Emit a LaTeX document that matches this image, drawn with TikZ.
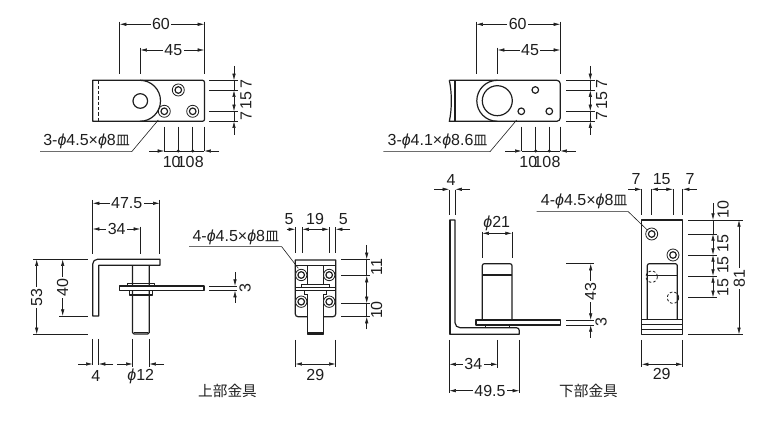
\documentclass[tikz,border=0pt]{standalone}
\usepackage{fontspec}
\setmainfont{Liberation Sans}
\newfontfamily\cjk{Noto Sans CJK JP}
\usetikzlibrary{arrows.meta}
\definecolor{ink}{HTML}{1e1e1e}
\newcommand{\dia}{\textit{ϕ}}
\newcommand{\sara}{{\cjk\fontsize{10.5}{10.5}\selectfont 皿}}
\tikzset{
  part/.style={draw=ink,line width=.9pt,line join=round},
  thinpart/.style={draw=ink,line width=.6pt},
  ext/.style={draw=ink,line width=.45pt},
  dimboth/.style={ext,{Latex[length=5pt,width=2.6pt]}-{Latex[length=5pt,width=2.6pt]}},
  dimend/.style={ext,-{Latex[length=5pt,width=2.6pt]}},
  lbl/.style={text=ink,font=\fontsize{12}{12}\selectfont,inner sep=1pt},
  gaplbl/.style={lbl,fill=white},
  vlbl/.style={lbl,rotate=90},
  vgaplbl/.style={gaplbl,rotate=90},
  kanji/.style={text=ink,font=\cjk\fontsize{11}{11}\selectfont,inner sep=0pt},
}
\begin{document}
\begin{tikzpicture}[x=0.75pt,y=-0.75pt]
  \useasboundingbox (0,0) rectangle (764,441);

  % top left plate
  \draw[part] (92.7,80.3) -- (202.5,80.3) arc[start angle=-90,end angle=0,radius=2] -- (204.5,119.3) arc[start angle=0,end angle=90,radius=2] -- (92.7,121.3) -- cycle;
  \draw[thinpart,dashed,dash pattern=on 2.5pt off 1.5pt] (98.3,80.3) -- (98.3,121.3);
  \draw[part] (140,80.3) arc[start angle=-90,end angle=90,radius=20.5];
  \draw[part] (140.3,101) circle[radius=7.3];
  \draw[thinpart] (178.3,90) circle[radius=6];
  \draw[part] (178.3,90) circle[radius=3.3];
  \draw[thinpart] (164.3,111.3) circle[radius=6];
  \draw[part] (164.3,111.3) circle[radius=3.3];
  \draw[thinpart] (192.7,111.3) circle[radius=6];
  \draw[part] (192.7,111.3) circle[radius=3.3];
  \draw[ext] (119.7,21.7) -- (119.7,74.3);
  \draw[ext] (204.3,21.7) -- (204.3,74.3);
  \draw[ext] (140.3,47.7) -- (140.3,74.3);
  \draw[dimboth] (119.7,24.3) -- (204.3,24.3);
  \draw[dimboth] (140.3,50) -- (204.3,50);
  \node[gaplbl] (topA60) at (161,24) {60};
  \node[gaplbl] (topA45) at (173.3,50) {45};
  \draw[ext] (209.3,80.3) -- (238,80.3);
  \draw[ext] (209.3,90.3) -- (238,90.3);
  \draw[ext] (209.3,111.3) -- (238,111.3);
  \draw[ext] (209.3,121.3) -- (238,121.3);
  \draw[dimend] (234,66) -- (234,80.3);
  \draw[dimboth] (234,90.3) -- (234,111.3);
  \draw[dimend] (234,135) -- (234,121.3);
  \draw[ext] (234,80.3) -- (234,90.3);
  \draw[ext] (234,111.3) -- (234,121.3);
  \node[vlbl] (topA7a) at (246,84.5) {7};
  \node[vlbl] (topA15) at (246,100.7) {15};
  \node[vlbl] (topA7b) at (246,116) {7};
  \draw[ext] (164.3,126.7) -- (164.3,151);
  \draw[ext] (178.3,126.7) -- (178.3,151);
  \draw[ext] (192.7,126.7) -- (192.7,151);
  \draw[ext] (204.3,126.7) -- (204.3,151);
  \draw[dimend] (149.3,151) -- (164.3,151);
  \draw[dimend] (219,151) -- (204.3,151);
  \draw[ext] (164.3,151) -- (204.3,151);
  \fill[ink] (178.3,151) circle[radius=1.6];
  \fill[ink] (192.7,151) circle[radius=1.6];
  \node[lbl] (topA10a) at (171.7,162.3) {10};
  \node[lbl] (topA10b) at (185.7,162.3) {10};
  \node[lbl] (topA8) at (199.3,162.3) {8};
  \draw[ext] (158.3,120) -- (131.7,151.7) -- (40,151.7);
  \node[lbl,anchor=west] (topAnote) at (41.7,141) {3-\dia4.5×\dia8\sara};

  % top right plate
  \draw[part] (449.3,80.3) -- (556.8,80.3) arc[start angle=-90,end angle=0,radius=3.5] -- (560.3,117.8) arc[start angle=0,end angle=90,radius=3.5] -- (449.3,121.3) .. controls (452,110) and (452,92) .. (449.3,80.3);
  \draw[part] (455,80.3) -- (455,121.3);
  \draw[part] (497.3,80.3) arc[start angle=-90,end angle=-270,radius=20.5];
  \draw[part] (497.3,100.7) circle[radius=15];
  \draw[part] (535.3,90) circle[radius=3.3];
  \draw[part] (521.3,111.3) circle[radius=3.3];
  \draw[part] (549.3,111.3) circle[radius=3.3];
  \draw[ext] (476.3,21.7) -- (476.3,74.3);
  \draw[ext] (560.3,21.7) -- (560.3,74.3);
  \draw[ext] (497.7,47.7) -- (497.7,74.3);
  \draw[dimboth] (476.3,24.3) -- (560.3,24.3);
  \draw[dimboth] (497.7,50) -- (560.3,50);
  \node[gaplbl] (topB60) at (517.7,24) {60};
  \node[gaplbl] (topB45) at (530,50) {45};
  \draw[ext] (566,80.3) -- (595,80.3);
  \draw[ext] (566,90.3) -- (595,90.3);
  \draw[ext] (566,111.3) -- (595,111.3);
  \draw[ext] (566,121.3) -- (595,121.3);
  \draw[dimend] (590.3,66) -- (590.3,80.3);
  \draw[dimboth] (590.3,90.3) -- (590.3,111.3);
  \draw[dimend] (590.3,135) -- (590.3,121.3);
  \draw[ext] (590.3,80.3) -- (590.3,90.3);
  \draw[ext] (590.3,111.3) -- (590.3,121.3);
  \node[vlbl] (topB7a) at (601.7,84.5) {7};
  \node[vlbl] (topB15) at (601.7,100.7) {15};
  \node[vlbl] (topB7b) at (601.7,116) {7};
  \draw[ext] (521.7,126.7) -- (521.7,151);
  \draw[ext] (535.7,126.7) -- (535.7,151);
  \draw[ext] (549.3,126.7) -- (549.3,151);
  \draw[ext] (560.3,126.7) -- (560.3,151);
  \draw[dimend] (505,151) -- (521.7,151);
  \draw[dimend] (575.7,151) -- (560.3,151);
  \draw[ext] (521.7,151) -- (560.3,151);
  \fill[ink] (535.7,151) circle[radius=1.6];
  \fill[ink] (549.3,151) circle[radius=1.6];
  \node[lbl] (topB10a) at (528.3,162.3) {10};
  \node[lbl] (topB10b) at (542.3,162.3) {10};
  \node[lbl] (topB8) at (556,162.3) {8};
  \draw[ext] (516.7,120) -- (490,151.7) -- (383.3,151.7);
  \node[lbl,anchor=west] (topBnote) at (386,141) {3-\dia4.1×\dia8.6\sara};

  % upper fitting, side view
  \draw[part] (92.7,316) -- (92.7,264) arc[start angle=180,end angle=270,radius=4.7] -- (160,259.3) -- (160,265.3) -- (98.7,265.3) -- (98.7,316) -- cycle;
  \draw[part] (132.5,265.3) -- (132.5,332.5) arc[start angle=180,end angle=90,radius=1.5] -- (147.8,334) arc[start angle=90,end angle=0,radius=1.5] -- (149.3,265.3);
  \draw[line width=1.2pt,ink] (133.5,332.6) -- (148.3,332.6);
  \draw[part,fill=white] (119.3,286) rectangle (204,290.7);
  \draw[part] (127.3,286) -- (127.3,283.8) -- (154.7,283.8) -- (154.7,286);
  \draw[part] (129.3,290.7) -- (129.3,295) -- (152.7,295) -- (152.7,290.7);
  \draw[ext] (92.7,200) -- (92.7,254.3);
  \draw[ext] (159.7,200) -- (159.7,254.3);
  \draw[ext] (140.3,226.7) -- (140.3,254.3);
  \draw[dimboth] (92.7,203.3) -- (159.7,203.3);
  \draw[dimboth] (92.7,229) -- (140.3,229);
  \node[gaplbl] (upA475) at (126.7,203) {47.5};
  \node[gaplbl] (upA34) at (116.7,229) {34};
  \draw[ext] (33.3,259.3) -- (87.7,259.3);
  \draw[ext] (33.3,334.3) -- (87.7,334.3);
  \draw[ext] (59.3,316) -- (87.7,316);
  \draw[dimboth] (36.7,259.3) -- (36.7,334.3);
  \draw[dimboth] (62.7,259.3) -- (62.7,316);
  \node[vgaplbl] (upA53) at (36.7,297.3) {53};
  \node[vgaplbl] (upA40) at (62.7,287.3) {40};
  \draw[ext] (209,286) -- (236.7,286);
  \draw[ext] (209,290.7) -- (236.7,290.7);
  \draw[dimend] (235,272.3) -- (235,286);
  \draw[dimend] (235,302.7) -- (235,290.7);
  \node[vlbl] (upA3) at (245,287.7) {3};
  \draw[ext] (92.7,339) -- (92.7,365);
  \draw[ext] (98.7,339) -- (98.7,365);
  \draw[dimend] (78.3,364) -- (92.7,364);
  \draw[dimend] (113.3,364) -- (98.7,364);
  \node[lbl] (upA4) at (95.7,375.5) {4};
  \draw[ext] (132.7,339) -- (132.7,367);
  \draw[ext] (149.3,339) -- (149.3,367);
  \draw[dimend] (117.3,364) -- (132.7,364);
  \draw[dimend] (164,364) -- (149.3,364);
  \node[lbl] (upA12) at (140.7,376.5) {\dia12};
  \node[kanji] (upTitle) at (227.5,390.7) {上部金具};

  % upper fitting, front view
  \draw[part] (295.3,260) -- (335.7,260) -- (335.7,314) arc[start angle=0,end angle=90,radius=2.7] -- (298,316.7) arc[start angle=90,end angle=180,radius=2.7] -- cycle;
  \draw[thinpart] (295.3,265.7) -- (335.7,265.7);
  \draw[thinpart] (295.3,287.3) -- (335.7,287.3);
  \draw[thinpart] (295.3,290.7) -- (335.7,290.7);
  \draw[thinpart] (307.3,265.7) -- (307.3,284);
  \draw[thinpart] (323.3,265.7) -- (323.3,284);
  \draw[thinpart] (301.7,287.3) -- (301.7,284) -- (329,284) -- (329,287.3);
  \draw[thinpart] (304,290.7) -- (304,294.3) -- (326.5,294.3) -- (326.5,290.7);
  \draw[part,fill=white] (307.3,294.3) -- (307.3,334) -- (323.3,334) -- (323.3,294.3);
  \draw[line width=1.2pt,ink] (307.3,333) -- (323.3,333);
  \draw[thinpart,fill=white] (301.2,275) circle[radius=5.7];
  \draw[part] (301.2,275) circle[radius=3.3];
  \draw[thinpart,fill=white] (329.2,275) circle[radius=5.7];
  \draw[part] (329.2,275) circle[radius=3.3];
  \draw[thinpart,fill=white] (301.2,301.7) circle[radius=5.7];
  \draw[part] (301.2,301.7) circle[radius=3.3];
  \draw[thinpart,fill=white] (329.2,301.7) circle[radius=5.7];
  \draw[part] (329.2,301.7) circle[radius=3.3];
  \draw[ext] (295.3,227.5) -- (295.3,253.3);
  \draw[ext] (302.3,227.5) -- (302.3,253.3);
  \draw[ext] (329,227.5) -- (329,253.3);
  \draw[ext] (335.7,227.5) -- (335.7,253.3);
  \draw[dimend] (286.7,229.3) -- (295.3,229.3);
  \draw[dimboth] (302.3,229.3) -- (329,229.3);
  \draw[dimend] (350,229.3) -- (335.7,229.3);
  \node[lbl] (upB5a) at (289,219) {5};
  \node[lbl] (upB19) at (315,219) {19};
  \node[lbl] (upB5b) at (343.3,219) {5};
  \draw[ext] (298.3,268.3) -- (281.7,246.7) -- (189,246.7);
  \node[lbl,anchor=west] (upBnote) at (191,237.7) {4-\dia4.5×\dia8\sara};
  \draw[ext] (341,259.3) -- (370,259.3);
  \draw[ext] (341,275.7) -- (370,275.7);
  \draw[ext] (341,303.3) -- (370,303.3);
  \draw[ext] (341,316.7) -- (370,316.7);
  \draw[dimend] (366.7,245) -- (366.7,259.3);
  \draw[dimboth] (366.7,275.7) -- (366.7,303.3);
  \draw[dimend] (366.7,329.3) -- (366.7,316.7);
  \draw[ext] (366.7,259.3) -- (366.7,275.7);
  \draw[ext] (366.7,303.3) -- (366.7,316.7);
  \node[vlbl] (upB11) at (376.5,266.7) {11};
  \node[vlbl] (upB10) at (376.5,310) {10};
  \draw[ext] (295.3,340) -- (295.3,366.7);
  \draw[ext] (335.7,340) -- (335.7,366.7);
  \draw[dimboth] (295.3,364) -- (335.7,364);
  \node[lbl] (upB29) at (315.3,375) {29};

  % lower fitting, side view
  \draw[part] (449.8,220) -- (455,220) -- (455,322.7) arc[start angle=180,end angle=90,radius=5] -- (516.5,327.7) arc[start angle=-90,end angle=0,radius=2.8] -- (519.3,334.3) -- (449.8,334.3) -- cycle;
  \draw[line width=1.2pt,ink] (450,220) -- (450,334.3);
  \draw[part] (482.3,320) -- (482.3,265.7) arc[start angle=180,end angle=270,radius=2] -- (510,263.7) arc[start angle=-90,end angle=0,radius=2] -- (512,320);
  \draw[part] (482.3,275) -- (512,275);
  \draw[part,fill=white] (476,320) rectangle (560.7,325);
  \draw[thinpart] (485.3,325) -- (485.3,327.7);
  \draw[thinpart] (509.3,325) -- (509.3,327.7);
  \draw[ext] (449.3,190) -- (449.3,215);
  \draw[ext] (455.3,190) -- (455.3,215);
  \draw[dimend] (434,189.3) -- (449.3,189.3);
  \draw[dimend] (470,189.3) -- (455.3,189.3);
  \node[lbl] (loA4) at (451,180) {4};
  \draw[ext] (482.3,231.7) -- (482.3,258.3);
  \draw[ext] (512,231.7) -- (512,258.3);
  \draw[dimboth] (482.3,233.3) -- (512,233.3);
  \node[lbl] (loA21) at (496.7,223.3) {\dia21};
  \draw[ext] (566,263.7) -- (594.3,263.7);
  \draw[ext] (566,320) -- (594.3,320);
  \draw[ext] (566,325) -- (594.3,325);
  \draw[dimboth] (590.7,263.7) -- (590.7,320);
  \draw[dimend] (590.7,337.7) -- (590.7,325);
  \node[vgaplbl] (loA43) at (590.7,291.7) {43};
  \node[vlbl] (loA3) at (601,321.7) {3};
  \draw[ext] (449.3,340) -- (449.3,393);
  \draw[ext] (497.7,340) -- (497.7,368.3);
  \draw[ext] (519.3,340) -- (519.3,393);
  \draw[dimboth] (449.3,364.3) -- (497.7,364.3);
  \draw[dimboth] (449.3,390.7) -- (519.3,390.7);
  \node[gaplbl] (loA34) at (473.3,364.3) {34};
  \node[gaplbl] (loA495) at (490,390.7) {49.5};
  \node[kanji] (loTitle) at (588.5,390.7) {下部金具};

  % lower fitting, front view
  \draw[part] (641.7,220) rectangle (682.7,334.3);
  \draw[thinpart] (651.7,234) circle[radius=6];
  \draw[part] (651.7,234) circle[radius=3.3];
  \draw[thinpart] (673,255) circle[radius=6];
  \draw[part] (673,255) circle[radius=3.3];
  \draw[part] (647.3,320) -- (647.3,265.7) arc[start angle=180,end angle=270,radius=2] -- (675.3,263.7) arc[start angle=-90,end angle=0,radius=2] -- (677.3,320);
  \draw[thinpart] (647.3,275) -- (677.3,275);
  \draw[part] (641.7,319.7) -- (682.7,319.7);
  \draw[thinpart] (641.7,324.5) -- (682.7,324.5);
  \draw[thinpart] (641.7,329) -- (682.7,329);
  \draw[thinpart,dashed,dash pattern=on 2pt off 1.5pt] (651.7,276.7) circle[radius=5.7];
  \draw[thinpart,dashed,dash pattern=on 2pt off 1.5pt] (673,297.7) circle[radius=5.7];
  \draw[ext] (641.7,189) -- (641.7,215);
  \draw[ext] (651.3,189) -- (651.3,215);
  \draw[ext] (673,189) -- (673,215);
  \draw[ext] (682.7,189) -- (682.7,215);
  \draw[dimend] (628.3,189.3) -- (641.7,189.3);
  \draw[dimboth] (651.3,189.3) -- (673,189.3);
  \draw[dimend] (696.7,189.3) -- (682.7,189.3);
  \node[lbl] (loB7a) at (636,179.3) {7};
  \node[lbl] (loB15) at (661.7,179.3) {15};
  \node[lbl] (loB7b) at (690,179.3) {7};
  \draw[ext] (647.3,230) -- (628.3,211.7) -- (536.7,211.7);
  \node[lbl,anchor=west] (loBnote) at (539.3,201) {4-\dia4.5×\dia8\sara};
  \draw[ext] (688.3,220) -- (742.7,220);
  \draw[ext] (688.3,234) -- (716.7,234);
  \draw[ext] (688.3,255) -- (716.7,255);
  \draw[ext] (688.3,276) -- (716.7,276);
  \draw[ext] (688.3,297.3) -- (716.7,297.3);
  \draw[ext] (688.3,334.3) -- (742.7,334.3);
  \draw[dimend] (713,203.3) -- (713,220);
  \draw[ext] (713,220) -- (713,234);
  \draw[dimboth] (713,234) -- (713,255);
  \draw[dimboth] (713,255) -- (713,276);
  \draw[dimboth] (713,276) -- (713,297.3);
  \draw[dimboth] (739,220) -- (739,334.3);
  \node[vlbl] (loB10) at (723,209.3) {10};
  \node[vlbl] (loB15a) at (723,243.3) {15};
  \node[vlbl] (loB15b) at (723,265) {15};
  \node[vlbl] (loB15c) at (723,287.3) {15};
  \node[vgaplbl] (loB81) at (739.3,278.3) {81};
  \draw[ext] (641.7,340) -- (641.7,366.7);
  \draw[ext] (682.7,340) -- (682.7,366.7);
  \draw[dimboth] (641.7,364.3) -- (682.7,364.3);
  \node[lbl] (loB29) at (661.7,374.3) {29};
\end{tikzpicture}
\end{document}
